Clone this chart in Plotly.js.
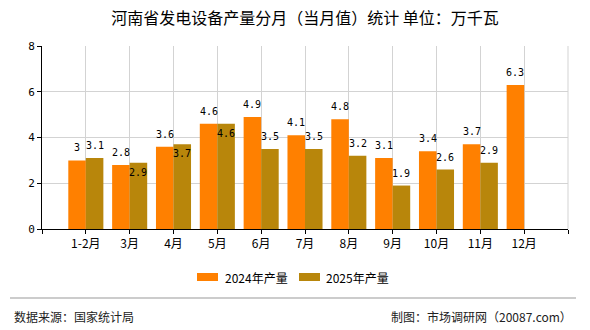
<!DOCTYPE html>
<html>
<head>
<meta charset="utf-8">
<script src="https://cdn.plot.ly/plotly-3.0.1.min.js"></script>
<style>
  html, body { margin: 0; padding: 0; background: #fff; }
  #chart { width: 590px; height: 330px; }
</style>
</head>
<body>
<div id="chart"></div>
<script>
// Monthly output of power generation equipment in Henan (10k kW)
const months = ['1-2月', '3月', '4月', '5月', '6月', '7月', '8月', '9月', '10月', '11月', '12月'];
const output2024 = [3, 2.8, 3.6, 4.6, 4.9, 4.1, 4.8, 3.1, 3.4, 3.7, 6.3];
const output2025 = [3.1, 2.9, 3.7, 4.6, 3.5, 3.5, 3.2, 1.9, 2.6, 2.9, null];
const seriesNames = ['2024年产量', '2025年产量'];
const yTicks = [0, 2, 4, 6, 8];

const titleText = '河南省发电设备产量分月（当月值）统计 单位：万千瓦';
const sourceText = '数据来源：国家统计局';
const makerText = '制图：市场调研网（20087.com）';

// canvas geometry
const W = 590, H = 330;
const M = { l: 42, r: 22, t: 46, b: 101 };
const plotW = W - M.l - M.r, plotH = H - M.t - M.b;
const px = x => (x - M.l) / plotW;          // pixel -> paper x
const py = y => (H - M.b - y) / plotH;      // pixel -> paper y

const colors = ['#FF8000', '#B8860B'];
const cjk = 'Noto Sans CJK SC, sans-serif';
const mono = 'DejaVu Sans Mono, monospace';

const idx = months.map((_, i) => i);
const bargap = 0.2;
const unitPx = plotW / (months.length + 1);
const barShift = (1 - bargap) / 4 * unitPx;

const traces = [output2024, output2025].map((vals, k) => ({
  type: 'bar',
  name: seriesNames[k],
  x: idx,
  y: vals,
  marker: { color: colors[k], line: { width: 0 } },
  showlegend: false,
  hoverinfo: 'x+y'
}));

// value labels; a few 2025 labels sit just inside the bar top
const insideLabels2025 = new Set(['3月', '4月', '5月']);
const annotations = [];
[output2024, output2025].forEach((vals, k) => {
  vals.forEach((v, i) => {
    if (v === null || v === undefined) return;
    const inside = k === 1 && insideLabels2025.has(months[i]);
    annotations.push({
      x: i, y: v, xref: 'x', yref: 'y',
      text: String(v),
      showarrow: false,
      xshift: k === 0 ? -barShift : barShift,
      yanchor: inside ? 'top' : 'bottom',
      yshift: inside ? -2 : 5,
      font: { family: mono, size: 10, color: '#000' }
    });
  });
});

// legend
const legendY = py(277);
const legendItems = [
  { sx: 197, tx: 223 },
  { sx: 299, tx: 324 }
];
const shapes = [];
legendItems.forEach((it, k) => {
  shapes.push({
    type: 'rect', xref: 'paper', yref: 'paper',
    x0: px(it.sx), x1: px(it.sx + 21),
    y0: py(281), y1: py(273),
    fillcolor: colors[k], line: { width: 0 }
  });
  annotations.push({
    xref: 'paper', yref: 'paper', x: px(it.tx), y: legendY,
    xanchor: 'left', yanchor: 'middle', showarrow: false,
    text: seriesNames[k], font: { family: cjk, size: 12, color: '#000' }
  });
});

// right border gridline / tick of the x axis
shapes.push({
  type: 'line', xref: 'paper', yref: 'paper',
  x0: 1, x1: 1, y0: 0, y1: 1,
  line: { color: '#d3d3d3', width: 1 }, layer: 'below'
});

// footer rule and credits
shapes.push({
  type: 'line', xref: 'paper', yref: 'paper',
  x0: px(10), x1: px(576), y0: py(298), y1: py(298),
  line: { color: '#999', width: 1 }
});
annotations.push({
  xref: 'paper', yref: 'paper', x: px(12), y: py(316),
  xanchor: 'left', yanchor: 'middle', showarrow: false,
  text: sourceText, font: { family: cjk, size: 12, color: '#222' }
});
annotations.push({
  xref: 'paper', yref: 'paper', x: px(574), y: py(316),
  xanchor: 'right', yanchor: 'middle', showarrow: false,
  text: makerText, font: { family: cjk, size: 12, color: '#222' }
});

const tickvals = [-1].concat(idx, [months.length]);
const ticktext = [''].concat(months, ['']);

const layout = {
  width: W, height: H,
  margin: M,
  paper_bgcolor: '#fff',
  plot_bgcolor: '#fff',
  barmode: 'group',
  bargap: bargap,
  bargroupgap: 0,
  title: {
    text: titleText,
    x: 0.5, xref: 'paper', xanchor: 'center',
    y: 1 - 18 / H, yanchor: 'middle',
    font: { family: cjk, size: 16, color: '#000' }
  },
  xaxis: {
    type: 'linear',
    range: [-1, months.length],
    tickvals: tickvals,
    ticktext: ticktext,
    showgrid: true, gridcolor: '#d3d3d3', gridwidth: 1,
    zeroline: false,
    showline: true, linecolor: '#000', linewidth: 1,
    ticks: 'outside', ticklen: 4, tickcolor: '#000',
    tickfont: { family: cjk, size: 12, color: '#000' },
    fixedrange: true
  },
  yaxis: {
    range: [0, 8],
    tickvals: yTicks,
    showgrid: true, gridcolor: '#d3d3d3', gridwidth: 1,
    zeroline: false,
    showline: true, linecolor: '#000', linewidth: 1,
    ticks: 'outside', ticklen: 4, tickcolor: '#000',
    tickfont: { family: mono, size: 11, color: '#000' },
    fixedrange: true
  },
  showlegend: false,
  shapes: shapes,
  annotations: annotations
};

Plotly.newPlot('chart', traces, layout, { displayModeBar: false, staticPlot: true });
</script>
</body>
</html>
